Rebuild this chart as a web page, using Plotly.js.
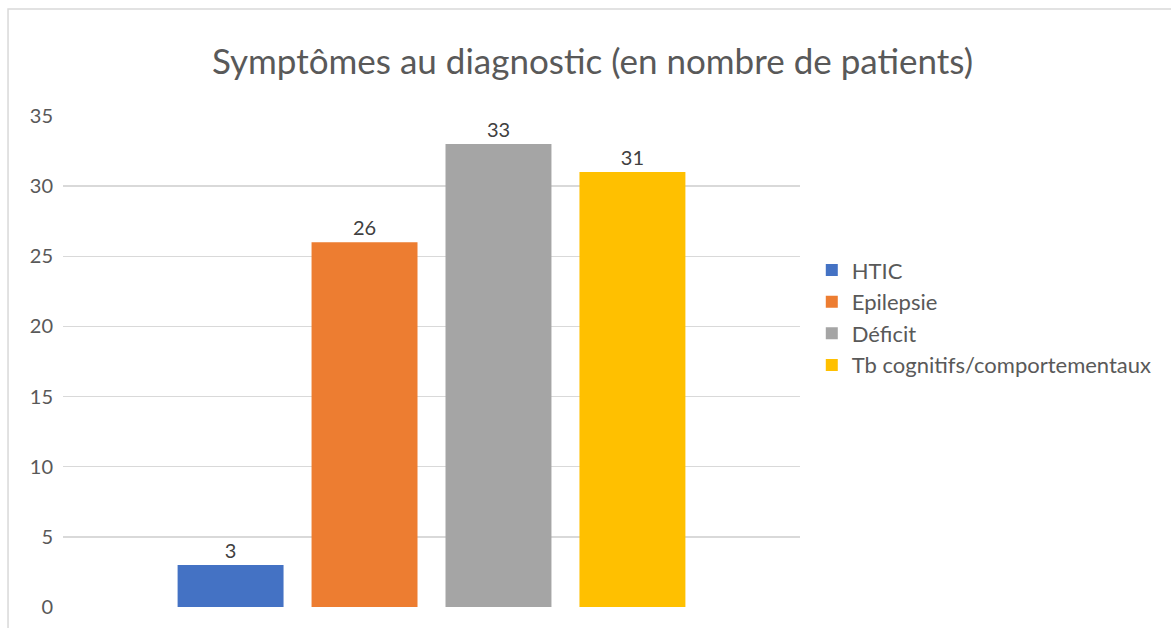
<!DOCTYPE html>
<html>
<head>
<meta charset="utf-8">
<script src="https://cdn.plot.ly/plotly-3.0.1.min.js"></script>
<style>html,body{margin:0;padding:0;background:#fff;}#chart{width:1171px;height:628px;}</style>
</head>
<body>
<div id="chart"></div>
<script>
const category = [""];
const seriesNames = ["HTIC", "Epilepsie", "Déficit", "Tb cognitifs/comportementaux"];
const seriesValues = [3, 26, 33, 31];
const seriesColors = ["#4472C4", "#ED7D31", "#A5A5A5", "#FFC000"];
const yTicks = [0, 5, 10, 15, 20, 25, 30, 35];

const font = "Lato, 'Open Sans', sans-serif";
const traces = seriesNames.map((name, i) => ({
  type: "bar",
  name: name,
  x: category,
  y: [seriesValues[i]],
  marker: {color: seriesColors[i]},
  text: [String(seriesValues[i])],
  textposition: "outside",
  cliponaxis: false,
  textfont: {family: font, size: 20, color: "#404040"},
  hoverinfo: "none"
}));

const layout = {
  width: 1171, height: 628,
  margin: {l: 63, r: 371, t: 116, b: 21, pad: 0},
  paper_bgcolor: "#fff", plot_bgcolor: "#fff",
  barmode: "group",
  bargap: 0.273,
  bargroupgap: 0.209,
  title: {text: "Symptômes au diagnostic (en nombre de patients)", font: {family: font, size: 35, color: "#595959"}, x: 0.506, xref: "container", xanchor: "center", y: 0.901, yanchor: "middle"},
  xaxis: {showticklabels: false, showgrid: false, zeroline: false, showline: false, ticks: "", fixedrange: true},
  yaxis: {range: [0, 35], tickvals: yTicks, ticktext: yTicks.map(String), showgrid: true, gridcolor: "#D9D9D9", gridwidth: 1.5, zeroline: false, showline: false, ticks: "", ticklabelstandoff: 9,
          tickfont: {family: font, size: 20, color: "#595959"}},
  showlegend: true,
  legend: {x: 1.016, xanchor: "left", y: 0.589, yanchor: "middle", font: {family: font, size: 22, color: "#595959"}, itemwidth: 30, tracegroupgap: 0, traceorder: "normal", bgcolor: "rgba(0,0,0,0)"},
  shapes: [{type: "rect", xref: "paper", yref: "paper", x0: -0.0746, x1: 1.6, y0: -0.2, y1: 1.218, line: {color: "#D9D9D9", width: 1.5}, fillcolor: "rgba(0,0,0,0)", layer: "below"}]
};

Plotly.newPlot("chart", traces, layout, {displayModeBar: false, staticPlot: true});
</script>
</body>
</html>
